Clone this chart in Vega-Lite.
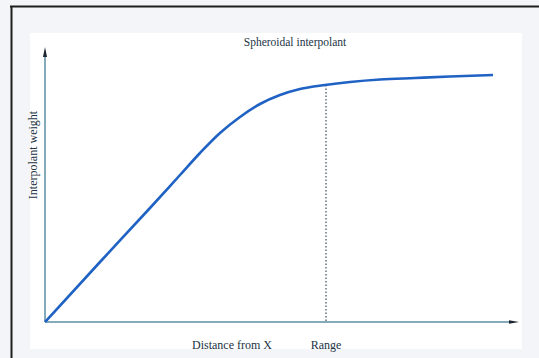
{
  "$schema": "https://vega.github.io/schema/vega-lite/v6.json",
  "width": 475,
  "height": 280,
  "autosize": "none",
  "padding": {"left": 45, "top": 42, "right": 19, "bottom": 36},
  "background": "#f3f5f8",
  "config": {"view": {"stroke": null}, "font": "Liberation Serif", "axis": {"disable": true}},
  "datasets": {
    "curve": [
      {"distance": 0, "weight": 0},
      {"distance": 55, "weight": 60},
      {"distance": 105, "weight": 114},
      {"distance": 135, "weight": 147},
      {"distance": 155, "weight": 169},
      {"distance": 175, "weight": 189},
      {"distance": 195, "weight": 205},
      {"distance": 215, "weight": 218},
      {"distance": 235, "weight": 227},
      {"distance": 255, "weight": 233},
      {"distance": 280, "weight": 237},
      {"distance": 305, "weight": 240},
      {"distance": 335, "weight": 242.5},
      {"distance": 370, "weight": 244},
      {"distance": 405, "weight": 245.5},
      {"distance": 448, "weight": 247}
    ],
    "cutoff": [{"range": 281, "sill": 237, "floor": 0}],
    "one": [{"id": 1}]
  },
  "layer": [
    {
      "data": {"name": "one"},
      "mark": {"type": "tick", "orient": "horizontal", "size": 492, "thickness": 316, "color": "#ffffff", "opacity": 1},
      "encoding": {
        "x": {"datum": 231, "type": "quantitative", "scale": {"domain": [0, 475], "nice": false, "zero": false}, "axis": null},
        "y": {"datum": 131, "type": "quantitative", "scale": {"domain": [0, 280], "nice": false, "zero": false}, "axis": null}
      }
    },
    {
      "data": {"name": "one"},
      "mark": {"type": "tick", "orient": "vertical", "size": 352, "thickness": 2, "color": "#1e1e1e", "opacity": 1},
      "encoding": {
        "x": {"datum": -33.5, "type": "quantitative", "scale": {"domain": [0, 475], "nice": false, "zero": false}, "axis": null},
        "y": {"datum": 140, "type": "quantitative", "scale": {"domain": [0, 280], "nice": false, "zero": false}, "axis": null}
      }
    },
    {
      "data": {"name": "one"},
      "mark": {"type": "tick", "orient": "horizontal", "size": 530, "thickness": 2, "color": "#1e1e1e", "opacity": 1},
      "encoding": {
        "x": {"datum": 230, "type": "quantitative", "scale": {"domain": [0, 475], "nice": false, "zero": false}, "axis": null},
        "y": {"datum": 315.5, "type": "quantitative", "scale": {"domain": [0, 280], "nice": false, "zero": false}, "axis": null}
      }
    },
    {
      "data": {"name": "one"},
      "mark": {"type": "tick", "orient": "vertical", "size": 268, "thickness": 1.5, "color": "#5a8fa3", "opacity": 1},
      "encoding": {
        "x": {"datum": 0, "type": "quantitative", "scale": {"domain": [0, 475], "nice": false, "zero": false}, "axis": null},
        "y": {"datum": 134, "type": "quantitative", "scale": {"domain": [0, 280], "nice": false, "zero": false}, "axis": null}
      }
    },
    {
      "data": {"name": "one"},
      "mark": {"type": "tick", "orient": "horizontal", "size": 467, "thickness": 1.5, "color": "#5a8fa3", "opacity": 1},
      "encoding": {
        "x": {"datum": 233.5, "type": "quantitative", "scale": {"domain": [0, 475], "nice": false, "zero": false}, "axis": null},
        "y": {"datum": 0, "type": "quantitative", "scale": {"domain": [0, 280], "nice": false, "zero": false}, "axis": null}
      }
    },
    {
      "data": {"name": "one"},
      "mark": {"type": "point", "shape": "M0,-1L0.4,1L-0.4,1Z", "size": 100, "filled": true, "opacity": 1, "color": "#1d2530"},
      "encoding": {
        "x": {"datum": 0, "type": "quantitative", "scale": {"domain": [0, 475], "nice": false, "zero": false}, "axis": null},
        "y": {"datum": 270, "type": "quantitative", "scale": {"domain": [0, 280], "nice": false, "zero": false}, "axis": null}
      }
    },
    {
      "data": {"name": "one"},
      "mark": {"type": "point", "shape": "M1,0L-1,0.35L-1,-0.35Z", "size": 100, "filled": true, "opacity": 1, "color": "#1d2530"},
      "encoding": {
        "x": {"datum": 469, "type": "quantitative", "scale": {"domain": [0, 475], "nice": false, "zero": false}, "axis": null},
        "y": {"datum": 0, "type": "quantitative", "scale": {"domain": [0, 280], "nice": false, "zero": false}, "axis": null}
      }
    },
    {
      "data": {"name": "cutoff"},
      "mark": {"type": "rule", "color": "#3d4a55", "strokeWidth": 1.2, "strokeDash": [1.5, 2]},
      "encoding": {
        "x": {"field": "range", "type": "quantitative", "scale": {"domain": [0, 475], "nice": false, "zero": false}, "axis": null},
        "y": {"field": "sill", "type": "quantitative", "scale": {"domain": [0, 280], "nice": false, "zero": false}, "axis": null},
        "y2": {"field": "floor"}
      }
    },
    {
      "data": {"name": "curve"},
      "mark": {"type": "line", "color": "#1f62c4", "strokeWidth": 2.6, "interpolate": "monotone"},
      "encoding": {
        "x": {"field": "distance", "type": "quantitative", "scale": {"domain": [0, 475], "nice": false, "zero": false}, "axis": null},
        "y": {"field": "weight", "type": "quantitative", "scale": {"domain": [0, 280], "nice": false, "zero": false}, "axis": null}
      }
    },
    {
      "data": {"name": "one"},
      "mark": {"type": "text", "text": "Spheroidal interpolant", "fontSize": 11.5, "color": "#223344", "align": "center", "baseline": "middle"},
      "encoding": {
        "x": {"datum": 250, "type": "quantitative", "scale": {"domain": [0, 475], "nice": false, "zero": false}, "axis": null},
        "y": {"datum": 279, "type": "quantitative", "scale": {"domain": [0, 280], "nice": false, "zero": false}, "axis": null}
      }
    },
    {
      "data": {"name": "one"},
      "mark": {"type": "text", "text": "Distance from X", "fontSize": 12, "color": "#223344", "align": "center", "baseline": "middle"},
      "encoding": {
        "x": {"datum": 187, "type": "quantitative", "scale": {"domain": [0, 475], "nice": false, "zero": false}, "axis": null},
        "y": {"datum": -23, "type": "quantitative", "scale": {"domain": [0, 280], "nice": false, "zero": false}, "axis": null}
      }
    },
    {
      "data": {"name": "cutoff"},
      "mark": {"type": "text", "text": "Range", "fontSize": 12, "color": "#223344", "align": "center", "baseline": "middle"},
      "encoding": {
        "x": {"field": "range", "type": "quantitative", "scale": {"domain": [0, 475], "nice": false, "zero": false}, "axis": null},
        "y": {"datum": -23, "type": "quantitative", "scale": {"domain": [0, 280], "nice": false, "zero": false}, "axis": null}
      }
    },
    {
      "data": {"name": "one"},
      "mark": {"type": "text", "text": "Interpolant weight", "fontSize": 12, "color": "#223344", "align": "center", "baseline": "middle", "angle": 270},
      "encoding": {
        "x": {"datum": -12, "type": "quantitative", "scale": {"domain": [0, 475], "nice": false, "zero": false}, "axis": null},
        "y": {"datum": 167, "type": "quantitative", "scale": {"domain": [0, 280], "nice": false, "zero": false}, "axis": null}
      }
    }
  ]
}
